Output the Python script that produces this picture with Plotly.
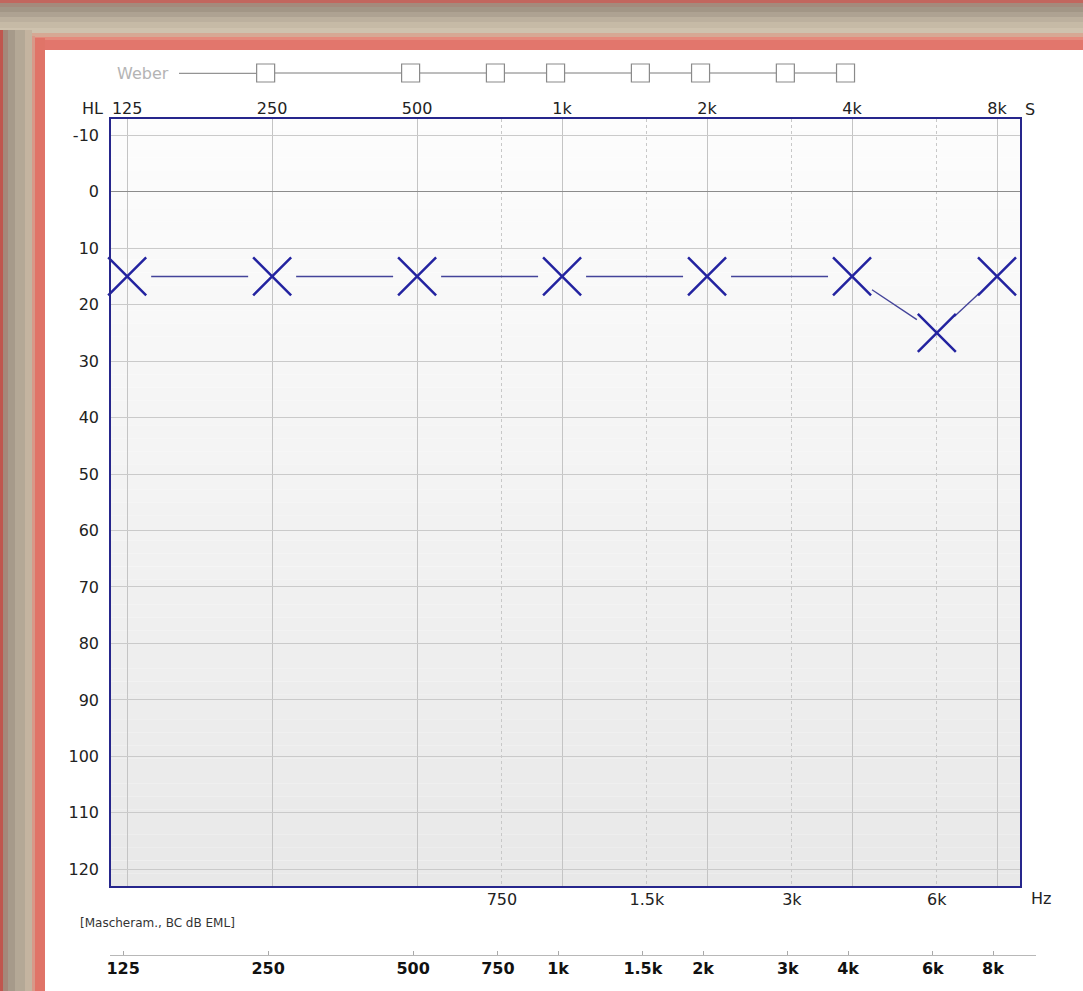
import math
import plotly.graph_objects as go

# ---------------- data ----------------
freqs = [125, 250, 500, 1000, 2000, 4000, 6000, 8000]
bc_db = [15, 15, 15, 15, 15, 15, 25, 15]

major_freqs = [125, 250, 500, 1000, 2000, 4000, 8000]
major_labels = ["125", "250", "500", "1k", "2k", "4k", "8k"]
minor_freqs = [750, 1500, 3000, 6000]
minor_labels = ["750", "1.5k", "3k", "6k"]
all_freqs = [125, 250, 500, 750, 1000, 1500, 2000, 3000, 4000, 6000, 8000]
all_labels = ["125", "250", "500", "750", "1k", "1.5k", "2k", "3k", "4k", "6k", "8k"]
weber_freqs = [250, 500, 750, 1000, 1500, 2000, 3000, 4000]
db_ticks = list(range(-10, 121, 10))

# ---------------- layout geometry ----------------
W, H = 1083, 991
L, R, T, B = 111, 63, 50, 36
PW, PH = W - L - R, H - T - B


def px(x):
    return (x - L) / PW


def py(y):
    return (H - B - y) / PH


PLOT_TOP, PLOT_BOT = 119, 886
x_lo, x_hi = math.log10(115.7), math.log10(8930)
y_top, y_bot = -12.89, 122.96
pxl = PW / (x_hi - x_lo)
ypx = (PLOT_BOT - PLOT_TOP) / (y_bot - y_top)

FONT = "DejaVu Sans"
NAVY = "#26268c"

fig = go.Figure()

# connecting lines, shortened so they stop at the marker arms
GAP = 24
seg_x, seg_y = [], []
for i in range(len(freqs) - 1):
    ax, ay = math.log10(freqs[i]) * pxl, bc_db[i] * ypx
    bx, by = math.log10(freqs[i + 1]) * pxl, bc_db[i + 1] * ypx
    d = math.hypot(bx - ax, by - ay)
    ux, uy = (bx - ax) / d, (by - ay) / d
    s = (ax + ux * GAP, ay + uy * GAP)
    e = (bx - ux * GAP, by - uy * GAP)
    seg_x += [10 ** (s[0] / pxl), 10 ** (e[0] / pxl), None]
    seg_y += [s[1] / ypx, e[1] / ypx, None]

fig.add_trace(go.Scatter(x=seg_x, y=seg_y, mode="lines",
                         line=dict(color="#44449a", width=1.4),
                         showlegend=False, hoverinfo="skip", cliponaxis=False))
fig.add_trace(go.Scatter(x=freqs, y=bc_db, mode="markers",
                         marker=dict(symbol="x-thin", size=38,
                                     line=dict(color="#2323a0", width=2.5)),
                         showlegend=False, cliponaxis=False))

# helper traces so that overlay axes exist
fig.add_trace(go.Scatter(x=[], y=[], xaxis="x3", yaxis="y", showlegend=False))
fig.add_trace(go.Scatter(x=[], y=[], xaxis="x2", yaxis="y", showlegend=False))

# Weber row
fig.add_trace(go.Scatter(x=weber_freqs, y=[0] * len(weber_freqs), xaxis="x5", yaxis="y5",
                         mode="lines+markers",
                         line=dict(color="#7a7a7a", width=1),
                         marker=dict(symbol="square", size=18, color="white",
                                     line=dict(color="#8a8a8a", width=1.2)),
                         showlegend=False, hoverinfo="skip", cliponaxis=False))

shift2 = 4 / pxl
shift5 = 6.5 / pxl

fig.update_layout(
    width=W, height=H,
    margin=dict(l=L, r=R, t=T, b=B, pad=0),
    paper_bgcolor="white", plot_bgcolor="white",
    font=dict(family=FONT, size=16, color="#222"),
    xaxis=dict(type="log", range=[x_lo, x_hi], side="top",
               tickvals=major_freqs, ticktext=major_labels,
               showgrid=True, gridcolor="#c4c4c4", gridwidth=1.2,
               showline=True, mirror=True, linecolor=NAVY, linewidth=1.6,
               ticks="", ticklabelstandoff=-3, zeroline=False,
               tickfont=dict(family=FONT, size=16, color="#222")),
    xaxis3=dict(type="log", range=[x_lo, x_hi], overlaying="x", anchor="y", side="bottom",
                tickvals=minor_freqs, ticktext=minor_labels,
                showgrid=True, gridcolor="#c8c8c8", gridwidth=1, griddash="dot",
                showline=False, ticks="", ticklabelstandoff=2, zeroline=False,
                tickfont=dict(family=FONT, size=16, color="#222")),
    xaxis2=dict(type="log", range=[x_lo + shift2, x_hi + shift2], overlaying="x",
                anchor="free", position=0, side="bottom",
                tickvals=all_freqs, ticktext=all_labels,
                showgrid=False, showline=False, zeroline=False,
                ticks="inside", ticklen=4, tickcolor="#aaaaaa", tickwidth=1,
                ticklabelstandoff=2,
                tickfont=dict(family=FONT, size=16, color="#111", weight="bold")),
    yaxis=dict(range=[y_bot, y_top], domain=[py(PLOT_BOT), py(PLOT_TOP)],
               tickvals=db_ticks, ticktext=[str(v) for v in db_ticks],
               showgrid=True, gridcolor="#cacaca", gridwidth=1,
               zeroline=True, zerolinecolor="#8c8c8c", zerolinewidth=1.2,
               showline=True, mirror=True, linecolor=NAVY, linewidth=1.6,
               ticks="", ticklabelstandoff=7,
               tickfont=dict(family=FONT, size=16, color="#222")),
    xaxis5=dict(type="log", range=[x_lo + shift5, x_hi + shift5], anchor="y5",
                domain=[0, 1], visible=False),
    yaxis5=dict(range=[-1, 1], domain=[py(90), py(56)], anchor="x5", visible=False),
)

shapes = []
# background gradient inside plot area (below grid)
N = 60
for i in range(N):
    t0, t1 = i / N, (i + 1) / N
    c = round(253 - (253 - 232) * (t0 + t1) / 2)
    shapes.append(dict(type="rect", xref="x domain", yref="y domain",
                       x0=0, x1=1, y0=1 - t1, y1=1 - t0, layer="below",
                       line=dict(width=0), fillcolor=f"rgb({c},{c},{c})"))

# outer window frame (decoration)
top_band = [(0, 3, "#c2665e"), (3, 7, "#a48a7c"), (7, 12, "#a29686"), (12, 17, "#aea292"),
            (17, 22, "#bcb09e"), (22, 28, "#c6baa6"), (28, 33, "#cec2ae"),
            (33, 37, "#d6a894"), (37, 40, "#e48a7c"), (40, 50, "#e2766c")]
for y0, y1, col in top_band:
    shapes.append(dict(type="rect", xref="paper", yref="paper",
                       x0=px(0), x1=px(W), y0=py(y1), y1=py(y0), layer="above",
                       line=dict(width=0), fillcolor=col))
left_band = [(0, 3, "#c0564e", 30), (3, 8, "#a4887a", 30), (8, 15, "#a69a8a", 30),
             (15, 25, "#b4a896", 30), (25, 32, "#c4b4a0", 30), (32, 35, "#d89888", 36),
             (35, 45, "#e07468", 38)]
for x0, x1, col, ys in left_band:
    shapes.append(dict(type="rect", xref="paper", yref="paper",
                       x0=px(x0), x1=px(x1), y0=py(H), y1=py(ys), layer="above",
                       line=dict(width=0), fillcolor=col))

# bottom frequency scale line
shapes.append(dict(type="line", xref="paper", yref="paper",
                   x0=px(110), x1=px(1036), y0=py(955.5), y1=py(955.5),
                   line=dict(color="#b8b8b8", width=1)))
# Weber leader line
x5_lo, x5_hi = x_lo + shift5, x_hi + shift5
shapes.append(dict(type="line", xref="paper", yref="paper",
                   x0=px(179), x1=(math.log10(weber_freqs[0]) - x5_lo) / (x5_hi - x5_lo),
                   y0=py(73.3), y1=py(73.3), layer="below",
                   line=dict(color="#7a7a7a", width=1)))

annotations = [
    dict(text="HL", x=px(92), y=py(108), font=dict(size=16, color="#222")),
    dict(text="S", x=px(1030), y=py(109), font=dict(size=16, color="#222")),
    dict(text="Hz", x=px(1041), y=py(898.5), font=dict(size=16, color="#222")),
    dict(text="Weber", x=px(142.5), y=py(73.5), font=dict(size=16, color="#b4b4b4")),
    dict(text="[Mascheram., BC dB EML]", x=px(78), y=py(923), xanchor="left",
         font=dict(size=12, color="#333")),
]
for a in annotations:
    a.update(xref="paper", yref="paper", showarrow=False)
    a.setdefault("xanchor", "center")
    a["yanchor"] = "middle"
    a["font"]["family"] = FONT

fig.update_layout(shapes=shapes, annotations=annotations)
fig.write_html("out.html", config={"displayModeBar": False},
               post_script="document.body.style.margin='0';document.body.style.overflow='hidden';")
